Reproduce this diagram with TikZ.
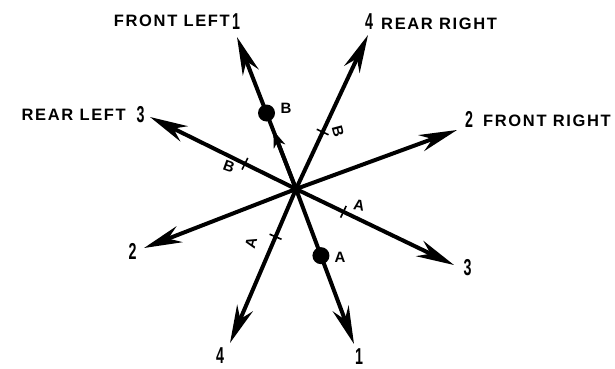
\documentclass[tikz,border=0pt]{standalone}
\usepackage{fontspec}
\usetikzlibrary{arrows.meta,calc}
\newfontfamily\lblfont{Liberation Sans}[LetterSpace=10]
\newfontfamily\digfont{Liberation Sans}
\newcommand\bigdig[1]{\scalebox{0.62}[1]{\fontsize{23}{23}\selectfont\digfont\bfseries #1}}
\begin{document}
\begin{tikzpicture}[x=1pt,y=-1pt,
  arm/.style={line width=4pt,-{Stealth[length=38pt,width=17pt,inset=12pt]}},
  midarrow/.style={line width=4pt,-{Stealth[length=17pt,width=12pt,inset=5pt]}},
  tickmark/.style={line width=1.6pt},
  dot/.style={circle,fill=black,inner sep=0pt,minimum size=17pt},
  lbl/.style={inner sep=0pt,font=\fontsize{16.5}{17}\selectfont\lblfont\bfseries},
  num/.style={inner sep=0pt},
  small/.style={inner sep=0pt,font=\fontsize{15}{15}\selectfont\lblfont\bfseries}]
\useasboundingbox (0,0) rectangle (615,369);
\coordinate (C) at (296,189);
\coordinate (FL) at (237,37);
\coordinate (RL) at (150,117);
\coordinate (RR) at (368,35);
\coordinate (FR) at (457,130);
\coordinate (L2) at (144,248);
\coordinate (L4) at (230,343);
\coordinate (L1) at (354,344);
\coordinate (L3) at (454,265);
% arms
\foreach \e in {FL,RL,RR,FR,L2,L4,L1,L3}{\draw[arm] (C) -- (\e);}
\draw[midarrow] (C) -- ($(C)!0.385!(FL)$);
% dots
\node[dot] (dB) at ($(C)!0.5!(FL)$) {};
\node[dot] (dA) at ($(C)!0.43!(L1)$) {};
\node[small] (dBl) at (286,108) {B};
\node[small] (dAl) at (340,257) {A};
% ticks
\coordinate (tRL) at ($(C)!0.35!(RL)$);
\coordinate (tRR) at ($(C)!0.37!(RR)$);
\coordinate (tL3) at ($(C)!0.30!(L3)$);
\coordinate (tL4) at ($(C)!0.31!(L4)$);
\foreach \t in {tRL,tRR,tL3,tL4}{\draw[tickmark] ($(\t)!6.5pt!90:(C)$) -- ($(\t)!6.5pt!-90:(C)$);}
\node[small,rotate=-20] (bRL) at (229,167) {B};
\node[small,rotate=-75] (bRR) at (338,131) {B};
\node[small,rotate=-10] (aL3) at (359,205) {A};
\node[small,rotate=75] (aL4) at (251,243) {A};
% labels
\node[lbl,anchor=base east] (tFL) at (230,27) {FRONT LEFT};
\node[lbl,anchor=base east] (tRL2) at (126,120) {REAR LEFT};
\node[lbl,anchor=base west] (tRR2) at (381,30) {REAR RIGHT};
\node[lbl,anchor=base west] (tFR) at (483,126) {FRONT RIGHT};
% numbers
\node[num] (n1) at (236,21.5) {\bigdig{1}};
\node[num] (n3) at (140.5,114.5) {\bigdig{3}};
\node[num] (n4) at (369,21.5) {\bigdig{4}};
\node[num] (n2) at (469,119.5) {\bigdig{2}};
\node[num] (m2) at (132.5,251) {\bigdig{2}};
\node[num] (m4) at (220,356) {\bigdig{4}};
\node[num] (m1) at (359,357) {\bigdig{1}};
\node[num] (m3) at (467.5,267.5) {\bigdig{3}};
\end{tikzpicture}
\end{document}
